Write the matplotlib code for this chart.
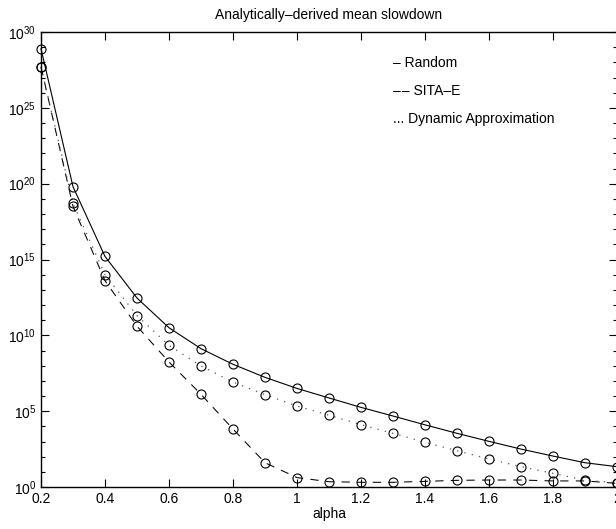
import matplotlib
matplotlib.use("Agg")
import matplotlib.pyplot as plt
import matplotlib.ticker as mticker
import numpy as np

plt.rcParams["font.family"] = ["Liberation Sans", "DejaVu Sans"]
plt.rcParams["mathtext.fontset"] = "custom"
plt.rcParams["mathtext.rm"] = "Liberation Sans"
plt.rcParams["mathtext.it"] = "Liberation Sans"

# ── data (log10 of mean slowdown) ───────────────────────────────────────────
alpha = [0.2, 0.3, 0.4, 0.5, 0.6, 0.7, 0.8, 0.9, 1.0, 1.1,
         1.2, 1.3, 1.4, 1.5, 1.6, 1.7, 1.8, 1.9, 2.0]
log_random = [28.9, 19.8, 15.2, 12.46, 10.5, 9.12, 8.09, 7.23, 6.5, 5.87,
              5.25, 4.68, 4.1, 3.54, 3.01, 2.5, 2.04, 1.6, 1.34]
log_sita = [27.7, 18.5, 13.6, 10.6, 8.24, 6.11, 3.82, 1.6, 0.62, 0.35,
            0.31, 0.31, 0.37, 0.44, 0.46, 0.46, 0.4, 0.4, 0.24]
log_dynamic = [27.7, 18.7, 14.0, 11.3, 9.34, 7.98, 6.92, 6.09, 5.34, 4.73,
               4.11, 3.54, 2.95, 2.39, 1.85, 1.34, 0.9, 0.45, 0.28]

xticks = [0.2, 0.4, 0.6, 0.8, 1.0, 1.2, 1.4, 1.6, 1.8, 2.0]
xtick_labels = ["0.2", "0.4", "0.6", "0.8", "1", "1.2", "1.4", "1.6", "1.8", "2"]
yexp = [0, 5, 10, 15, 20, 25, 30]

fig = plt.figure(figsize=(6.16, 5.29), dpi=100)
ax = fig.add_axes([41 / 616, 42 / 529, 576 / 616, 455 / 529])

common = dict(marker="o", markersize=6.5, markerfacecolor="none",
              markeredgecolor="black", markeredgewidth=0.8, clip_on=False)
ax.plot(alpha, 10.0 ** np.array(log_random), color="black", linestyle="-",
        linewidth=0.8, **common)
ax.plot(alpha, 10.0 ** np.array(log_sita), color="black", linestyle=(0, (8, 7)),
        linewidth=0.75, **common)
ax.plot(alpha, 10.0 ** np.array(log_dynamic), color="#555555", linestyle=(0, (1, 5)),
        linewidth=0.9, **common)

ax.set_yscale("log")
ax.set_xlim(0.2, 2.0)
ax.set_ylim(1e0, 1e30)
ax.set_xticks(xticks)
ax.set_xticklabels(xtick_labels, fontsize=10)
ax.set_yticks([10.0 ** e for e in yexp])
ax.set_yticklabels([r"$10^{%d}$" % e for e in yexp], fontsize=10)
ax.yaxis.set_minor_locator(mticker.FixedLocator([10.0 ** e for e in range(0, 31)]))
ax.yaxis.set_minor_formatter(mticker.NullFormatter())
ax.tick_params(which="both", direction="in", top=True, right=True, width=0.8)
ax.tick_params(which="major", length=6)
ax.tick_params(which="minor", length=3)
for sp in ax.spines.values():
    sp.set_linewidth(1.0)

ax.set_xlabel("alpha", fontsize=10, labelpad=1)
ax.set_title("Analytically\u2013derived mean slowdown", fontsize=10, pad=9)

# legend drawn as plain text, as in the original
ax.text(393 / 616, 1 - 63 / 529, "\u2013 Random", transform=fig.transFigure,
        fontsize=10, va="center", ha="left")
ax.text(393 / 616, 1 - 91 / 529, "\u2013\u200a\u2013 SITA\u2013E", transform=fig.transFigure,
        fontsize=10, va="center", ha="left")
ax.text(393 / 616, 1 - 119 / 529, "... Dynamic Approximation", transform=fig.transFigure,
        fontsize=10, va="center", ha="left")

fig.savefig("out.png", dpi=100)
